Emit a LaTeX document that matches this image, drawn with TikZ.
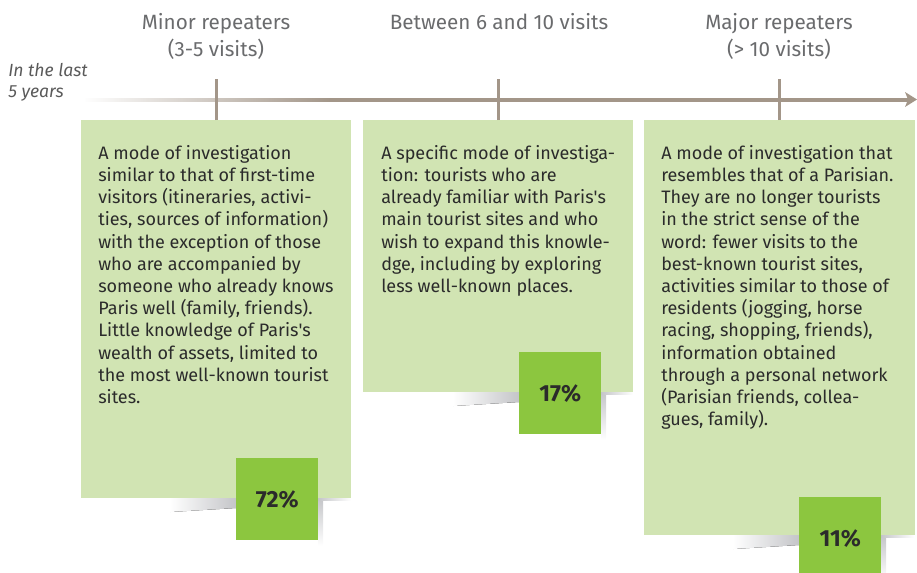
\documentclass[tikz,border=0pt]{standalone}
\usepackage{fontspec}
\setmainfont{Fira Sans}
\usetikzlibrary{fadings}
\tikzfading[name=washout, left color=transparent!0, right color=transparent!100]
\definecolor{axisbrown}{HTML}{A39689}
\definecolor{panelgreen}{HTML}{D1E4B3}
\definecolor{tabgreen}{HTML}{8CC63F}
\definecolor{bodytext}{HTML}{2B2B2B}
\definecolor{headgray}{HTML}{6A6B6D}
\definecolor{notegray}{HTML}{5A5A5A}
\definecolor{shadowgray}{HTML}{C4C5C8}
\begin{document}
\begin{tikzpicture}[x=0.75pt,y=-0.75pt,
  panel/.style={fill=panelgreen,draw=none,inner sep=0pt,anchor=north west},
  tab/.style={fill=tabgreen,draw=none,inner sep=0pt,anchor=north west,
    minimum width=61.5pt,minimum height=61.5pt,text=bodytext,
    font=\fontsize{17.5}{19}\selectfont\bfseries},
  bodycopy/.style={inner sep=0pt,anchor=north west,align=left,text=bodytext,
    font=\fontsize{13.5}{16.65}\selectfont},
  headline/.style={inner sep=0pt,anchor=base,text=headgray,
    font=\fontsize{15.5}{18}\selectfont},
  note/.style={inner sep=0pt,anchor=base west,text=notegray,
    font=\fontsize{13.2}{15}\selectfont\itshape},
  tick/.style={draw=axisbrown,line width=2.25pt},
  fadeleft/.style={left color=white,right color=shadowgray,draw=none},
  fadedown/.style={top color=shadowgray,bottom color=white,draw=none}]
\useasboundingbox (0,0) rectangle (917,572);

% drop shadows behind the panels and percentage tabs
\fill[fadeleft] (170,498) -- (236,498) -- (236,508) -- (170,512) -- cycle;
\fill[fadedown] (318,498) rectangle (323,546);
\fill[left color=shadowgray,right color=white] (318,498) rectangle (351,500.5);
\fill[fadeleft] (453,392) -- (519,392) -- (519,402) -- (453,406) -- cycle;
\fill[fadedown] (601,392) rectangle (606,440);
\fill[left color=shadowgray,right color=white] (601,392) rectangle (633,394.5);
\fill[fadeleft] (733,535) -- (799,535) -- (799,545) -- (733,549) -- cycle;
\fill[fadedown] (881,535) rectangle (886,580);
\fill[left color=shadowgray,right color=white] (881,535) rectangle (914,537.5);

% panels
\node[panel,minimum width=202.5pt,minimum height=283.5pt] (p1) at (81,120) {};
\node[panel,minimum width=202.5pt,minimum height=204pt] (p2) at (363,120) {};
\node[panel,minimum width=203.25pt,minimum height=311.25pt] (p3) at (644,120) {};

% time axis: solid bar, whitened towards its left end, then the arrow tip
\fill[axisbrown] (85,97.5) rectangle (910,101.5);
\fill[white,path fading=washout] (84,97) rectangle (330,102);
\coordinate (tip) at (917,99.5);
\fill[axisbrown] (tip) -- (905,92) -- (908,99.5) -- (905,107) -- cycle;
\draw[tick] (p1.north) -- ++(0,-41);
\draw[tick] (p2.north) -- ++(0,-41);
\draw[tick] (p3.north) -- ++(0,-41);

\node[note] (n1) at (8,76) {In the last};
\node[note] (n2) at (8,97) {5 years};

% headings
\node[headline] (h1a) at (216,29) {Minor repeaters};
\node[headline] (h1b) at (216,56) {(3-5 visits)};
\node[headline] (h2) at (499,29) {Between 6 and 10 visits};
\node[headline] (h3a) at (779,29) {Major repeaters};
\node[headline] (h3b) at (779,56) {(> 10 visits)};

% panel texts
\node[bodycopy] (t1) at (98,145) {A mode of investigation\\
similar to that of first-time\\
visitors (itineraries, activi-\\
ties, sources of information)\\
with the exception of those\\
who are accompanied by\\
someone who already knows\\
Paris well (family, friends).\\
Little knowledge of Paris\textquotesingle s\\
wealth of assets, limited to\\
the most well-known tourist\\
sites.};
\node[bodycopy] (t2) at (381,145) {A specific mode of investiga-\\
tion: tourists who are\\
already familiar with Paris\textquotesingle s\\
main tourist sites and who\\
wish to expand this knowle-\\
dge, including by exploring\\
less well-known places.};
\node[bodycopy] (t3) at (661,145) {A mode of investigation that\\
resembles that of a Parisian.\\
They are no longer tourists\\
in the strict sense of the\\
word: fewer visits to the\\
best-known tourist sites,\\
activities similar to those of\\
residents (jogging, horse\\
racing, shopping, friends),\\
information obtained\\
through a personal network\\
(Parisian friends, collea-\\
gues, family).};

% percentage tabs
\node[tab] (s1) at (236,458) {72\%};
\node[tab] (s2) at (519,352) {17\%};
\node[tab] (s3) at (799,497) {11\%};
\end{tikzpicture}
\end{document}
